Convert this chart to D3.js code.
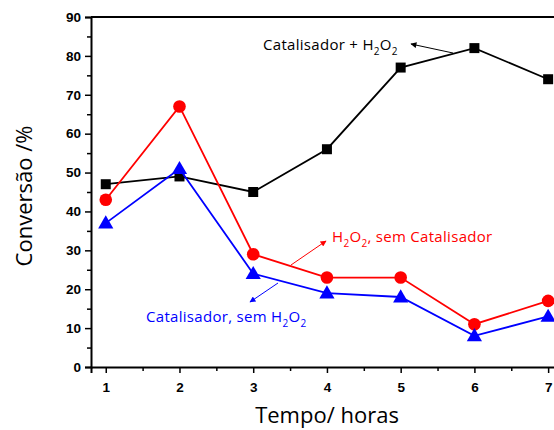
<!DOCTYPE html>
<html>
<head>
<meta charset="utf-8">
<script src="https://cdn.jsdelivr.net/npm/d3@7"></script>
<style>
  body { margin: 0; background: #fff; }
  svg { display: block; overflow: hidden; }
</style>
</head>
<body>
<svg id="chart" width="554" height="430"></svg>
<script>
const hours = [1, 2, 3, 4, 5, 6, 7];
const comCatalisadorH2O2 = [47, 49, 45, 56, 77, 82, 74];
const h2o2SemCatalisador = [43, 67, 29, 23, 23, 11, 17];
const catalisadorSemH2O2 = [37, 51, 24, 19, 18, 8, 13];
const yTicks = [0, 10, 20, 30, 40, 50, 60, 70, 80, 90];

const svg = d3.select('#chart');

const x = d3.scaleLinear().domain([0.8, 7.5]).range([91, 585]);
const y = d3.scaleLinear().domain([0, 90]).range([367, 17]);

const tickFont = 'Liberation Sans, Arial, sans-serif';
const labelFont = 'Open Sans, sans-serif';

// frame: top line and axes
svg.append('line')
    .attr('x1', x(0.8)).attr('x2', x(7.5))
    .attr('y1', y(90)).attr('y2', y(90))
    .attr('stroke', '#000').attr('stroke-width', 2);

// y axis
svg.append('g').attr('transform', `translate(${x(0.8)},0)`)
    .call(d3.axisLeft(y).tickValues(yTicks).tickSize(6).tickPadding(4));
svg.append('g').attr('transform', `translate(${x(0.8)},0)`)
    .call(d3.axisLeft(y).tickValues(d3.range(5, 90, 10)).tickSize(4).tickFormat(''))
    .call((g) => g.select('.domain').remove());

// x axis
svg.append('g').attr('transform', `translate(0,${y(0)})`)
    .call(d3.axisBottom(x).tickValues(hours).tickSize(6).tickPadding(9).tickFormat(d3.format('d')));
svg.append('g').attr('transform', `translate(0,${y(0)})`)
    .call(d3.axisBottom(x).tickValues(d3.range(1.5, 7.5, 1)).tickSize(4).tickFormat(''))
    .call((g) => g.select('.domain').remove());

svg.selectAll('.domain').attr('stroke-width', 2);
svg.selectAll('.tick line').attr('stroke-width', 1.5);
svg.selectAll('.tick text')
    .attr('font-family', tickFont)
    .attr('font-weight', 'bold')
    .attr('font-size', 13.5)
    .attr('fill', '#000');

// series
const series = [
    { values: comCatalisadorH2O2, color: '#000000', marker: 'square' },
    { values: h2o2SemCatalisador, color: '#ff0000', marker: 'circle' },
    { values: catalisadorSemH2O2, color: '#0000ff', marker: 'triangle' }
];

const line = d3.line().x((d, i) => x(hours[i])).y((d) => y(d));

series.forEach((s) => {
    svg.append('path')
        .datum(s.values)
        .attr('d', line)
        .attr('fill', 'none')
        .attr('stroke', s.color)
        .attr('stroke-width', 1.8);

    const sym = s.marker === 'square' ? d3.symbolSquare
        : s.marker === 'circle' ? d3.symbolCircle : d3.symbolTriangle;
    const size = s.marker === 'square' ? 100 : s.marker === 'circle' ? 125 : 100;

    svg.selectAll(null)
        .data(s.values)
        .enter()
        .append('path')
        .attr('d', d3.symbol().type(sym).size(size))
        .attr('transform', (d, i) => `translate(${x(hours[i])},${y(d) + (s.marker === 'triangle' ? 1 : 0)})`)
        .attr('fill', s.color);
});

// arrows
const defs = svg.append('defs');
['#000000', '#ff0000', '#0000ff'].forEach((c, i) => {
    defs.append('marker')
        .attr('id', 'arrow' + i)
        .attr('viewBox', '0 0 10 10')
        .attr('refX', 9).attr('refY', 5)
        .attr('markerWidth', 9).attr('markerHeight', 6)
        .attr('markerUnits', 'userSpaceOnUse')
        .attr('orient', 'auto')
        .append('path')
        .attr('d', 'M0,0 L10,5 L0,10 Z')
        .attr('fill', c);
});

const arrows = [
    { from: [453, 53], to: [411, 44], color: '#000000', id: 0 },
    { from: [291, 265], to: [326, 241], color: '#ff0000', id: 1 },
    { from: [278, 283], to: [250, 302], color: '#0000ff', id: 2 }
];
arrows.forEach((a) => {
    svg.append('line')
        .attr('x1', a.from[0]).attr('y1', a.from[1])
        .attr('x2', a.to[0]).attr('y2', a.to[1])
        .attr('stroke', a.color)
        .attr('stroke-width', 1)
        .attr('marker-end', `url(#arrow${a.id})`);
});

// annotation labels with subscripts
function chemLabel(xPos, yPos, color, parts) {
    const t = svg.append('text')
        .attr('x', xPos).attr('y', yPos)
        .attr('font-family', labelFont)
        .attr('font-size', 15)
        .attr('letter-spacing', 0.3)
        .attr('fill', color);
    parts.forEach((p) => {
        const span = t.append('tspan').text(p.t);
        if (p.sub) span.attr('font-size', 10).attr('dy', 5);
        else if (p.after) span.attr('dy', -5);
    });
}

chemLabel(263, 50, '#000', [
    { t: 'Catalisador + H' }, { t: '2', sub: true }, { t: 'O', after: true }, { t: '2', sub: true }
]);
chemLabel(332, 242, '#ff0000', [
    { t: 'H' }, { t: '2', sub: true }, { t: 'O', after: true }, { t: '2', sub: true }, { t: ', sem Catalisador', after: true }
]);
chemLabel(146, 322, '#0000ff', [
    { t: 'Catalisador, sem H' }, { t: '2', sub: true }, { t: 'O', after: true }, { t: '2', sub: true }
]);

// axis titles
svg.append('text')
    .attr('transform', 'translate(32,196) rotate(-90)')
    .attr('text-anchor', 'middle')
    .attr('font-family', labelFont)
    .attr('font-size', 22)
    .attr('fill', '#000')
    .text('Conversão /%');

svg.append('text')
    .attr('x', 327).attr('y', 423)
    .attr('text-anchor', 'middle')
    .attr('font-family', labelFont)
    .attr('font-size', 22)
    .attr('fill', '#000')
    .text('Tempo/ horas');
</script>
</body>
</html>
